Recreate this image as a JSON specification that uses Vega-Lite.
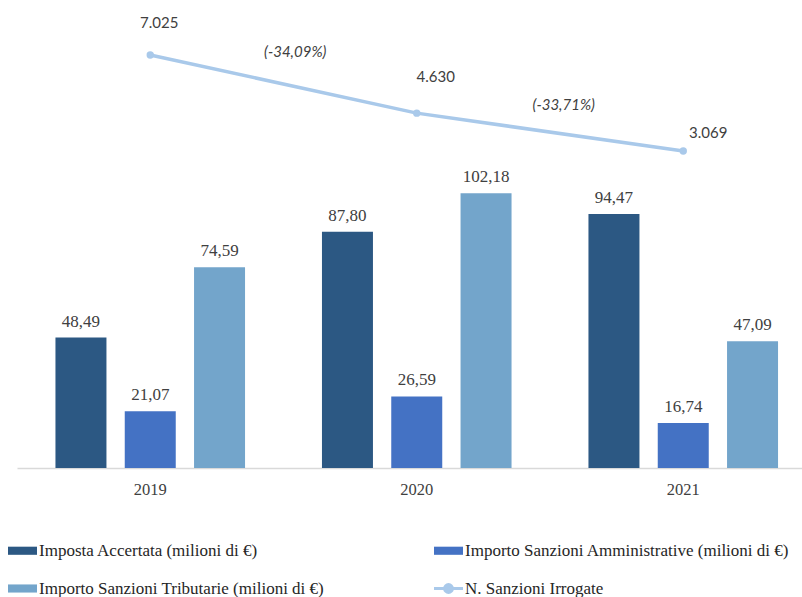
{
  "$schema": "https://vega.github.io/schema/vega-lite/v6.json",
  "autosize": {"type": "none"},
  "width": 785,
  "height": 458,
  "padding": {"left": 17, "top": 10, "right": 0, "bottom": 129},
  "background": "white",
  "config": {
    "view": {"stroke": null},
    "font": "Liberation Serif"
  },
  "data": {
    "values": [
      {"year": "2019", "series": "Imposta Accertata  (milioni di €)", "value": 48.49, "label": "48,49"},
      {"year": "2019", "series": "Importo Sanzioni Amministrative (milioni di €)", "value": 21.07, "label": "21,07"},
      {"year": "2019", "series": "Importo Sanzioni Tributarie (milioni di €)", "value": 74.59, "label": "74,59"},
      {"year": "2020", "series": "Imposta Accertata  (milioni di €)", "value": 87.80, "label": "87,80"},
      {"year": "2020", "series": "Importo Sanzioni Amministrative (milioni di €)", "value": 26.59, "label": "26,59"},
      {"year": "2020", "series": "Importo Sanzioni Tributarie (milioni di €)", "value": 102.18, "label": "102,18"},
      {"year": "2021", "series": "Imposta Accertata  (milioni di €)", "value": 94.47, "label": "94,47"},
      {"year": "2021", "series": "Importo Sanzioni Amministrative (milioni di €)", "value": 16.74, "label": "16,74"},
      {"year": "2021", "series": "Importo Sanzioni Tributarie (milioni di €)", "value": 47.09, "label": "47,09"},
      {"year": "2019", "series": "N. Sanzioni Irrogate", "value": 7025, "label": "7.025", "pct": "(-34,09%)"},
      {"year": "2020", "series": "N. Sanzioni Irrogate", "value": 4630, "label": "4.630", "pct": "(-33,71%)"},
      {"year": "2021", "series": "N. Sanzioni Irrogate", "value": 3069, "label": "3.069"}
    ]
  },
  "encoding": {
    "x": {
      "field": "year", "type": "nominal",
      "scale": {"range": [0, 799.5], "paddingInner": 0, "paddingOuter": 0},
      "axis": {
        "title": null, "labelAngle": 0, "ticks": false, "labelPadding": 13,
        "labelFont": "Liberation Serif", "labelFontSize": 16.5, "labelColor": "#404040",
        "domainColor": "#d9d9d9", "domainWidth": 1.5, "grid": false
      }
    }
  },
  "layer": [
    {
      "transform": [{"filter": "datum.series !== 'N. Sanzioni Irrogate'"}],
      "encoding": {
        "xOffset": {
          "field": "series", "type": "nominal",
          "sort": ["Imposta Accertata  (milioni di €)", "Importo Sanzioni Amministrative (milioni di €)", "Importo Sanzioni Tributarie (milioni di €)"],
          "scale": {"paddingInner": 0.264, "paddingOuter": 0.555}
        },
        "y": {"field": "value", "type": "quantitative", "scale": {"domain": [0, 170.26], "nice": false}, "axis": null}
      },
      "layer": [
        {
          "mark": {"type": "bar"},
          "encoding": {
            "color": {
              "field": "series", "type": "nominal",
              "scale": {
                "domain": ["Imposta Accertata  (milioni di €)", "Importo Sanzioni Amministrative (milioni di €)", "Importo Sanzioni Tributarie (milioni di €)", "N. Sanzioni Irrogate"],
                "range": ["#2c5883", "#4472c4", "#73a5cb", "#a9c9ea"]
              },
              "legend": {
                "title": null, "orient": "none", "legendX": -3, "legendY": 532,
                "direction": "horizontal",
                "columns": 2, "columnPadding": 103, "rowPadding": 19, "padding": 0,
                "symbolSize": 841, "labelOffset": 8, "labelLimit": 500,
                "labelFont": "Liberation Serif", "labelFontSize": 17, "labelColor": "#262626",
                "encode": {
                  "symbols": {
                    "update": {
                      "shape": {"signal": "datum.value === 'N. Sanzioni Irrogate' ? 'M-1,0H1M-0.27,0A0.27,0.27 0 1,0 0.27,0A0.27,0.27 0 1,0 -0.27,0Z' : 'M-1,-0.28H1V0.28H-1Z'"},
                      "fill": {"scale": "color", "field": "value"},
                      "stroke": {"scale": "color", "field": "value"},
                      "strokeWidth": {"signal": "datum.value === 'N. Sanzioni Irrogate' ? 3 : 0"},
                      "opacity": {"value": 1},
                      "fillOpacity": {"value": 1}
                    }
                  }
                }
              }
            }
          }
        },
        {
          "mark": {"type": "text", "baseline": "bottom", "dy": -7, "font": "Liberation Serif", "fontSize": 17, "color": "#404040"},
          "encoding": {"text": {"field": "label"}}
        }
      ]
    },
    {
      "transform": [{"filter": "datum.series === 'N. Sanzioni Irrogate'"}],
      "encoding": {
        "y": {"field": "value", "type": "quantitative", "scale": {"domain": [-9993, 8880], "nice": false, "zero": false}, "axis": null}
      },
      "layer": [
        {
          "mark": {"type": "line", "strokeWidth": 3.5},
          "encoding": {"color": {"field": "series", "type": "nominal"}}
        },
        {
          "mark": {"type": "point", "filled": true, "size": 55, "opacity": 1},
          "encoding": {"color": {"field": "series", "type": "nominal"}}
        },
        {
          "transform": [{"filter": "datum.year === '2019'"}],
          "mark": {"type": "text", "baseline": "middle", "dx": 9, "dy": -32, "font": "Lato", "fontSize": 15, "color": "#404040"},
          "encoding": {"text": {"field": "label"}}
        },
        {
          "transform": [{"filter": "datum.year === '2020'"}],
          "mark": {"type": "text", "baseline": "middle", "dx": 19, "dy": -36, "font": "Lato", "fontSize": 15, "color": "#404040"},
          "encoding": {"text": {"field": "label"}}
        },
        {
          "transform": [{"filter": "datum.year === '2021'"}],
          "mark": {"type": "text", "baseline": "middle", "dx": 25, "dy": -18, "font": "Lato", "fontSize": 15, "color": "#404040"},
          "encoding": {"text": {"field": "label"}}
        },
        {
          "transform": [{"filter": "datum.year === '2019'"}],
          "mark": {"type": "text", "baseline": "middle", "dx": 145, "dy": -3, "font": "Lato", "fontSize": 15, "fontStyle": "italic", "color": "#404040"},
          "encoding": {"text": {"field": "pct"}}
        },
        {
          "transform": [{"filter": "datum.year === '2020'"}],
          "mark": {"type": "text", "baseline": "middle", "dx": 147, "dy": -8, "font": "Lato", "fontSize": 15, "fontStyle": "italic", "color": "#404040"},
          "encoding": {"text": {"field": "pct"}}
        }
      ]
    }
  ],
  "resolve": {"scale": {"y": "independent"}}
}
